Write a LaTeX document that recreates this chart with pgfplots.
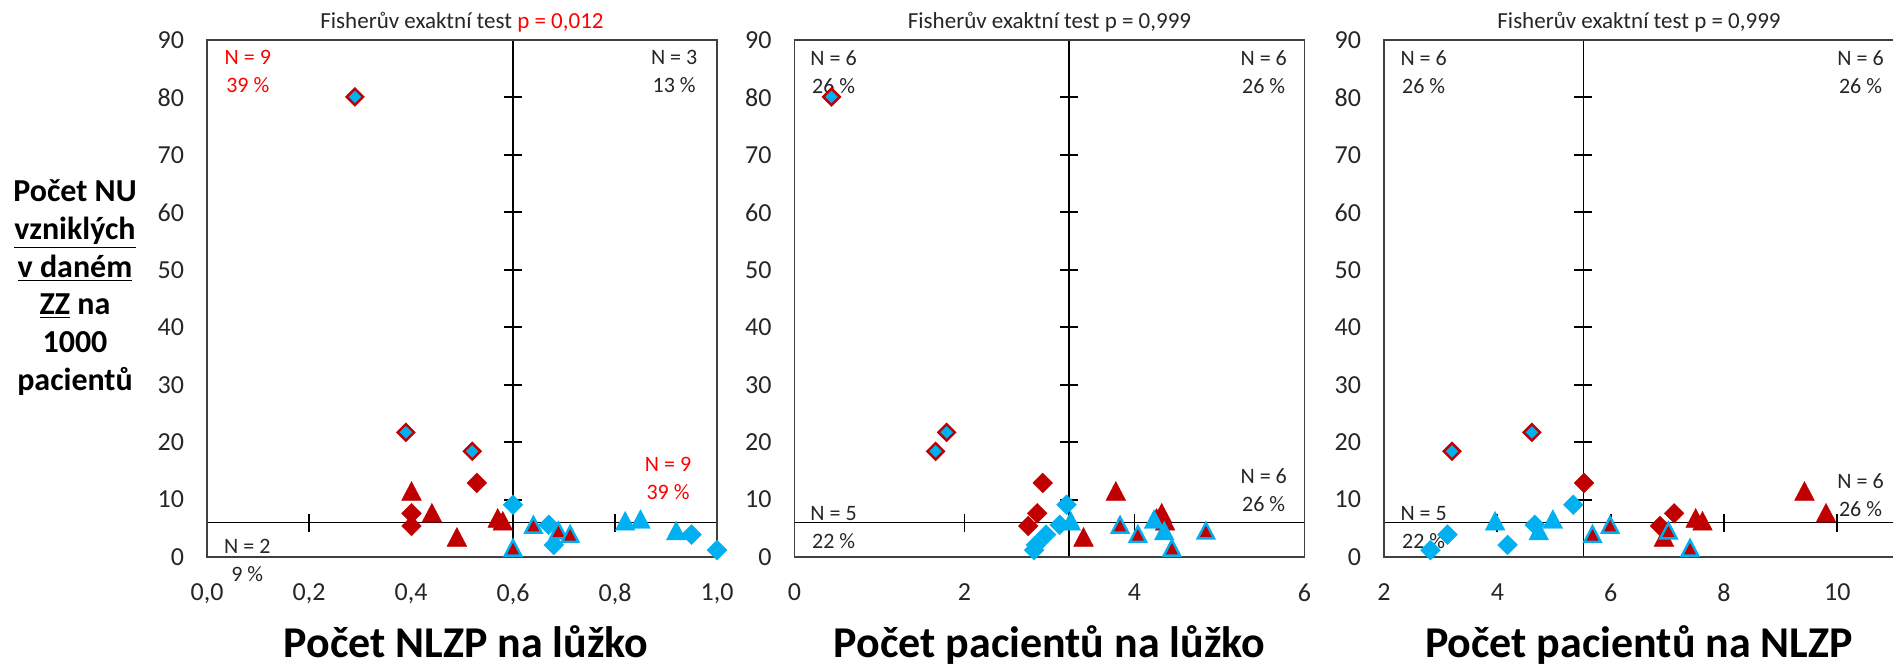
\documentclass[border=0pt]{standalone}
\usepackage{fontspec}
\setmainfont{Carlito}
\usepackage{pgfplots}
\pgfplotsset{compat=1.18}
\definecolor{cred}{HTML}{C00000}
\definecolor{cblue}{HTML}{00B0F0}
\definecolor{lred}{HTML}{FF0000}
\definecolor{txt}{HTML}{262626}

\pgfplotsset{
  frame/.style={scale only axis, width=255pt, height=258.5pt, anchor=south west},
  panel/.style={
    frame,
    ymin=0, ymax=90, ytick={0,10,...,90},
    major tick length=0pt, xtick style={draw=none}, ytick style={draw=none},
    axis line style={draw=black!75, line width=0.7pt},
    tick label style={font=\fontsize{13}{15}\selectfont, text=txt},
    yticklabel style={xshift=-8pt},
    xticklabel style={yshift=-10pt},
    /pgf/number format/assume math mode=true,
    clip=false,
  },
  % dividing lines: an empty axis whose origin sits at the crossing point
  divider/.style={
    frame, axis lines=center, axis line style={-, draw=black, line width=0.8pt},
    xticklabels={}, yticklabels={},
    major tick length=9pt, tick align=center,
    tick style={draw=black, line width=0.9pt},
    hide obscured x ticks=false, hide obscured y ticks=false,
  },
  brdia/.style={only marks, mark=square*, mark size=2.9pt,
    mark options={rotate=45, fill=cblue, draw=cred, line width=1.2pt}},
  rdia/.style={only marks, mark=square*, mark size=3.5pt,
    mark options={rotate=45, fill=cred, draw=cred, line width=0.2pt}},
  bdia/.style={only marks, mark=square*, mark size=3.5pt,
    mark options={rotate=45, fill=cblue, draw=cblue, line width=0.2pt}},
  rtri/.style={only marks, mark=triangle*, mark size=5.7pt,
    mark options={yshift=-1.57pt, yscale=1.1, fill=cred, draw=cred, line width=0.2pt}},
  btri/.style={only marks, mark=triangle*, mark size=5.7pt,
    mark options={yshift=-1.57pt, yscale=1.1, fill=cblue, draw=cblue, line width=0.2pt}},
  rbtri/.style={only marks, mark=triangle*, mark size=4.7pt,
    mark options={yshift=-1.3pt, yscale=1.1, fill=cred, draw=cblue, line width=1.2pt}},
}
\tikzset{
  qlab/.style={align=center, font=\fontsize{11}{14}\selectfont, text=txt},
  ttl/.style={anchor=base, font=\fontsize{11.5}{14}\selectfont, text=txt, yshift=5.75pt},
  xlab/.style={anchor=base, font=\fontsize{22}{24}\bfseries},
}

\begin{document}
\begin{tikzpicture}
\path[use as bounding box] (0pt,0pt) rectangle (946.5pt,334pt);

% cross ticks on the vertical dividing lines, as thin filled bars
\foreach \xx in {256.5pt,534.525pt,791.733pt}{
  \foreach \yy in {55.5pt,84.22pt,112.94pt,141.67pt,170.39pt,199.11pt,227.83pt,256.56pt,285.28pt,314pt}{
    \fill[black] ({\xx-4.5pt},{\yy-0.5pt}) rectangle ({\xx+4.5pt},{\yy+0.5pt});
  }
}

% NLZP na lůžko (split at x = 0.6, y = 6)
\begin{axis}[divider, at={(103.5pt,55.5pt)}, xmin=-0.6, xmax=0.4, ymin=-6, ymax=84,
  xtick={-0.6,-0.4,-0.2,0,0.2,0.4}, ytick={-6,4,14,24,34,44,54,64,74,84}]
\end{axis}
\begin{axis}[panel, at={(103.5pt,55.5pt)}, xmin=0, xmax=1,
  xtick={0,0.2,0.4,0.6,0.8,1},
  xticklabel style={/pgf/number format/fixed, /pgf/number format/fixed zerofill,
    /pgf/number format/precision=1, /pgf/number format/use comma}]
\addplot[brdia] coordinates {(0.29,80.1) (0.39,21.7) (0.52,18.4)};
\addplot[rdia] coordinates {(0.529,12.9) (0.401,7.6) (0.401,5.4)};
\addplot[bdia] coordinates {(0.60,9.1) (0.67,5.6) (0.68,2.1) (0.95,3.9) (1.0,1.2)};
\addplot[rtri] coordinates {(0.401,11.5) (0.441,7.7) (0.49,3.5) (0.57,6.8) (0.58,6.3)};
\addplot[btri] coordinates {(0.82,6.3) (0.85,6.6) (0.92,4.6)};
\addplot[rbtri] coordinates {(0.60,1.6) (0.64,5.6) (0.689,4.6) (0.712,4.0)};
\node[qlab, text=lred] at (axis cs:0.08,84.45) {N = 9\\39 \%};
\node[qlab] at (axis cs:0.916,84.45) {N = 3\\13 \%};
\node[qlab, text=lred] at (axis cs:0.904,13.65) {N = 9\\39 \%};
\node[qlab] at (axis cs:0.079,-0.55) {N = 2\\9 \%};
\node[ttl] at (rel axis cs:0.5,1) {Fisherův exaktní test \textcolor{lred}{p = 0,012}};
\end{axis}

% pacientů na lůžko (split at x = 3.23, y = 6)
\begin{axis}[divider, at={(397.25pt,55.5pt)}, xmin=-3.23, xmax=2.77, ymin=-6, ymax=84,
  xtick={-3.23,-1.23,0.77,2.77}, ytick={-6,4,14,24,34,44,54,64,74,84}]
\end{axis}
\begin{axis}[panel, at={(397.25pt,55.5pt)}, xmin=0, xmax=6, xtick={0,2,4,6}]
\addplot[brdia] coordinates {(0.435,80.1) (1.79,21.7) (1.66,18.4)};
\addplot[rdia] coordinates {(2.92,12.9) (2.855,7.6) (2.75,5.4)};
\addplot[bdia] coordinates {(3.20,9.1) (3.12,5.6) (2.84,2.1) (2.96,3.9) (2.82,1.2)};
\addplot[rtri] coordinates {(3.78,11.5) (4.32,7.7) (3.40,3.5) (4.26,6.8) (4.36,6.3)};
\addplot[btri] coordinates {(3.25,6.3) (4.23,6.6) (4.35,4.6)};
\addplot[rbtri] coordinates {(4.44,1.6) (3.83,5.6) (4.84,4.6) (4.04,4.0)};
\node[qlab] at (axis cs:0.46,84.45) {N = 6\\26 \%};
\node[qlab] at (axis cs:5.52,84.45) {N = 6\\26 \%};
\node[qlab] at (axis cs:5.52,11.65) {N = 6\\26 \%};
\node[qlab] at (axis cs:0.46,5.15) {N = 5\\22 \%};
\node[ttl] at (rel axis cs:0.5,1) {Fisherův exaktní test p = 0,999};
\end{axis}

% pacientů na NLZP (split at x = 5.52, y = 6)
\begin{axis}[divider, at={(692pt,55.5pt)}, xmin=-3.52, xmax=5.48, ymin=-6, ymax=84,
  xtick={-3.52,-1.52,0.48,2.48,4.48}, ytick={-6,4,14,24,34,44,54,64,74,84}]
\end{axis}
\begin{axis}[panel, at={(692pt,55.5pt)}, xmin=2, xmax=11, xtick={2,4,6,8,10},
  restrict x to domain=2:12]
\addplot[brdia] coordinates {(1.5,80.1) (4.61,21.7) (3.20,18.4)};
\addplot[rdia] coordinates {(5.53,12.9) (7.12,7.6) (6.87,5.4)};
\addplot[bdia] coordinates {(5.34,9.1) (4.66,5.6) (4.18,2.1) (3.12,3.9) (2.82,1.2)};
\addplot[rtri] coordinates {(9.42,11.5) (9.8,7.7) (6.94,3.5) (7.5,6.8) (7.62,6.3)};
\addplot[btri] coordinates {(3.96,6.3) (4.98,6.6) (4.73,4.6)};
\addplot[rbtri] coordinates {(7.40,1.6) (5.99,5.6) (7.02,4.6) (5.68,4.0)};
\node[qlab] at (axis cs:2.70,84.45) {N = 6\\26 \%};
\node[qlab] at (axis cs:10.41,84.45) {N = 6\\26 \%};
\node[qlab] at (axis cs:10.41,10.75) {N = 6\\26 \%};
\node[qlab] at (axis cs:2.70,5.2) {N = 5\\22 \%};
\node[ttl] at (rel axis cs:0.5,1) {Fisherův exaktní test p = 0,999};
\end{axis}

\node[align=center, font=\fontsize{16}{18.9}\bfseries] at (37.5pt,190.25pt)
  {Počet NU\\\underline{vzniklých}\\\underline{v daném}\\\underline{ZZ} na\\1000\\pacientů};
\node[xlab] at (233pt,5pt) {Počet NLZP na lůžko};
\node[xlab] at (524.75pt,5pt) {Počet pacientů na lůžko};
\node[xlab] at (819.5pt,5pt) {Počet pacientů na NLZP};
\end{tikzpicture}
\end{document}
